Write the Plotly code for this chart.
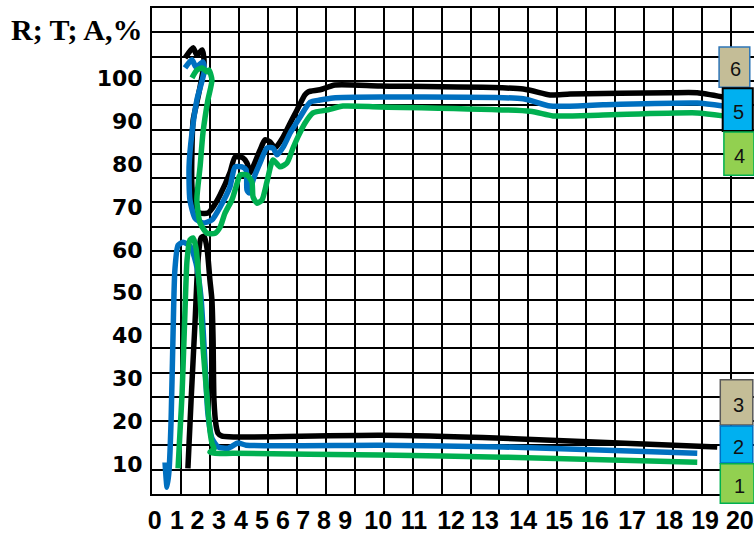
import plotly.graph_objects as go

# ---- data (x in grid-column units, y in %) ----
r6_x = [1.14, 1.42, 1.55, 1.73, 1.80, 1.59, 1.42, 1.38, 1.38, 1.49, 1.66, 1.93, 2.11, 2.35, 2.69, 2.87, 3.14, 3.28, 3.39, 3.49, 3.73, 3.90, 4.08, 4.25, 4.53, 4.77, 5.01, 5.28, 5.39, 5.80, 6.32, 7.88, 12.82, 13.75, 14.44, 17.89, 18.83, 19.72]
r6_y = [104.8, 107.2, 105.5, 106.7, 103.9, 95.7, 90.3, 83.3, 74.7, 69.3, 68.6, 68.6, 70.0, 72.8, 78.0, 81.7, 81.5, 80.3, 78.0, 79.4, 83.3, 85.7, 85.2, 83.8, 86.4, 89.6, 92.7, 96.2, 96.9, 97.4, 98.5, 98.3, 97.6, 96.2, 96.4, 96.7, 96.7, 95.7]

r5_x = [1.14, 1.38, 1.52, 1.76, 1.80, 1.55, 1.38, 1.28, 1.31, 1.49, 1.76, 2.07, 2.35, 2.69, 2.87, 3.11, 3.25, 3.28, 3.35, 3.49, 3.73, 3.97, 4.18, 4.32, 4.53, 4.77, 5.11, 5.46, 5.80, 6.25, 7.88, 12.82, 13.75, 15.58, 18.83, 19.72]
r5_y = [102.5, 104.4, 102.7, 103.9, 101.6, 95.0, 87.3, 79.4, 71.7, 67.4, 66.3, 67.0, 70.0, 74.7, 79.4, 79.4, 78.7, 74.0, 73.3, 76.3, 80.3, 83.8, 83.8, 82.2, 84.0, 87.3, 91.0, 94.5, 95.0, 95.5, 95.7, 95.3, 93.6, 93.9, 94.3, 93.6]

r4_x = [1.38, 1.55, 1.73, 1.90, 1.97, 2.07, 1.93, 1.76, 1.66, 1.55, 1.66, 1.90, 2.18, 2.35, 2.52, 2.76, 2.94, 3.04, 3.28, 3.45, 3.49, 3.63, 3.80, 3.97, 4.18, 4.42, 4.66, 4.87, 5.04, 5.28, 5.56, 6.08, 6.60, 7.88, 13.06, 13.85, 15.58, 18.83, 19.72]
r4_y = [100.2, 102.0, 102.5, 101.6, 102.0, 99.7, 95.0, 87.3, 79.4, 71.7, 66.3, 63.9, 63.9, 65.3, 68.6, 71.7, 75.6, 77.5, 77.5, 75.9, 72.4, 70.9, 71.7, 75.9, 81.0, 79.4, 80.3, 83.8, 86.4, 89.6, 92.0, 92.7, 93.6, 93.4, 92.4, 91.3, 91.5, 92.0, 91.3]

r3_x = [1.24, 1.35, 1.49, 1.59, 1.69, 1.80, 1.90, 2.00, 2.07, 2.11, 2.14, 2.21, 2.28, 2.42, 2.87, 7.88, 12.12, 19.52]
r3_y = [9.0, 24.9, 43.6, 57.6, 62.8, 63.2, 60.4, 53.0, 48.3, 38.9, 24.9, 19.1, 17.2, 16.5, 16.3, 16.7, 16.0, 14.0]

r2_x = [0.45, 0.52, 0.59, 0.66, 0.73, 0.79, 0.90, 1.07, 1.31, 1.52, 1.69, 1.83, 1.93, 2.07, 2.28, 2.63, 2.97, 3.25, 7.88, 12.12, 18.83]
r2_y = [10.4, 4.6, 8.6, 20.3, 41.3, 55.3, 61.1, 61.8, 60.9, 56.9, 49.0, 33.6, 21.9, 16.0, 14.0, 13.7, 14.9, 14.4, 14.4, 14.0, 12.5]

r1_x = [0.90, 0.97, 1.04, 1.14, 1.21, 1.31, 1.42, 1.52, 1.66, 1.76, 1.90, 2.00, 2.07, 2.14, 2.00, 2.18, 2.80, 7.88, 12.12, 18.83]
r1_y = [9.0, 17.9, 26.6, 45.9, 57.6, 62.3, 62.8, 60.4, 49.0, 37.3, 25.6, 17.9, 14.9, 13.5, 12.8, 12.5, 12.5, 12.1, 11.6, 10.4]

y_ticks = [10, 20, 30, 40, 50, 60, 70, 80, 90, 100]
x_tick_pos = [0.09, 0.86, 1.57, 2.31, 3.07, 3.80, 4.52, 5.22, 5.94, 6.67, 7.81, 9.05, 10.33, 11.50, 12.82, 14.06, 15.30, 16.58, 17.86, 19.10, 20.30]
x_tick_text = [str(i) for i in range(21)]

legend_labels = ["6", "5", "4", "3", "2", "1"]

BLACK = "#000000"
BLUE = "#0070c0"
GREEN = "#00b050"

X_RANGE = [0, 20.79]
Y_RANGE = [3.0, 116.5]

fig = go.Figure()

series = [
    (r3_x, r3_y, BLACK), (r2_x, r2_y, BLUE), (r1_x, r1_y, GREEN),
    (r6_x, r6_y, BLACK), (r5_x, r5_y, BLUE), (r4_x, r4_y, GREEN),
]
for xs, ys, c in series:
    fig.add_trace(go.Scatter(x=xs, y=ys, mode="lines",
                             line=dict(color=c, width=5.5, shape="spline", smoothing=0.6),
                             hoverinfo="skip", showlegend=False))

# dummy traces for overlay axes
fig.add_trace(go.Scatter(x=[1], y=[1], xaxis="x2", yaxis="y", mode="markers",
                         marker=dict(opacity=0), showlegend=False, hoverinfo="skip"))
fig.add_trace(go.Scatter(x=[1], y=[1], xaxis="x", yaxis="y2", mode="markers",
                         marker=dict(opacity=0), showlegend=False, hoverinfo="skip"))

# legend boxes (paper coords)
boxes = [
    (0.942, 0.993, 0.837, 0.920, "#c4bd97", "#2e75b6", 1.5),
    (0.948, 0.998, 0.747, 0.835, "#00b0f0", "#000000", 2),
    (0.950, 1.000, 0.656, 0.745, "#92d050", "#00b050", 1.5),
    (0.944, 0.998, 0.142, 0.235, "#c4bd97", "#595959", 1.5),
    (0.944, 0.998, 0.064, 0.140, "#00b0f0", "#0070c0", 1.5),
    (0.944, 1.000, -0.019, 0.062, "#92d050", "#00b050", 1.5),
]
shapes = []
annotations = []
for (x0, x1, y0, y1, fill, border, w), lab in zip(boxes, legend_labels):
    shapes.append(dict(type="rect", xref="paper", yref="paper", x0=x0, x1=x1, y0=y0, y1=y1,
                       fillcolor=fill, line=dict(color=border, width=w), layer="above"))
    annotations.append(dict(xref="paper", yref="paper", x=x1 - 0.012, y=(y0 + y1) / 2 - 0.005,
                            text=lab, showarrow=False, xanchor="right", yanchor="middle",
                            font=dict(family="Liberation Sans, Arial, sans-serif", size=20, color="#111")))

annotations.append(dict(xref="paper", yref="paper", x=-0.013, y=0.956, text="<b>R; T; A,%</b>",
                        showarrow=False, xanchor="right", yanchor="middle",
                        font=dict(family="Liberation Serif, Times New Roman, serif", size=30, color="black")))

fig.update_layout(
    width=754, height=533,
    margin=dict(l=152, r=0, t=8, b=39),
    paper_bgcolor="white", plot_bgcolor="white",
    showlegend=False,
    xaxis=dict(range=X_RANGE, dtick=1, tick0=0, showgrid=True, gridcolor="black", gridwidth=2,
               showticklabels=False, zeroline=False, showline=True, linecolor="black", linewidth=2,
               mirror=True, ticks="", automargin=False),
    xaxis2=dict(range=X_RANGE, overlaying="x", anchor="y", side="bottom", tickmode="array",
                tickvals=x_tick_pos, ticktext=x_tick_text, showgrid=False, zeroline=False,
                ticks="outside", ticklen=4, tickcolor="rgba(0,0,0,0)", automargin=False,
                ticklabeloverflow="allow",
                tickfont=dict(family="Liberation Sans, Arial, sans-serif", size=25,
                              color="black", weight="bold")),
    yaxis=dict(range=Y_RANGE, tickmode="array", tickvals=y_ticks, ticktext=[str(v) for v in y_ticks],
               showgrid=False, zeroline=False, showline=True, linecolor="black", linewidth=2,
               ticks="outside", ticklen=3, tickcolor="rgba(0,0,0,0)", automargin=False,
               tickfont=dict(family="DejaVu Sans, sans-serif", size=22, color="black", weight="bold")),
    yaxis2=dict(range=[0, 20], overlaying="y", anchor="x", dtick=1, tick0=0, showgrid=True,
                gridcolor="black", gridwidth=2, showticklabels=False, zeroline=False, ticks="",
                automargin=False),
    shapes=shapes,
    annotations=annotations,
)

fig.write_html(
    "out.html",
    config={"displayModeBar": False},
    post_script="document.body.style.margin='0';document.body.style.overflow='hidden';",
)
